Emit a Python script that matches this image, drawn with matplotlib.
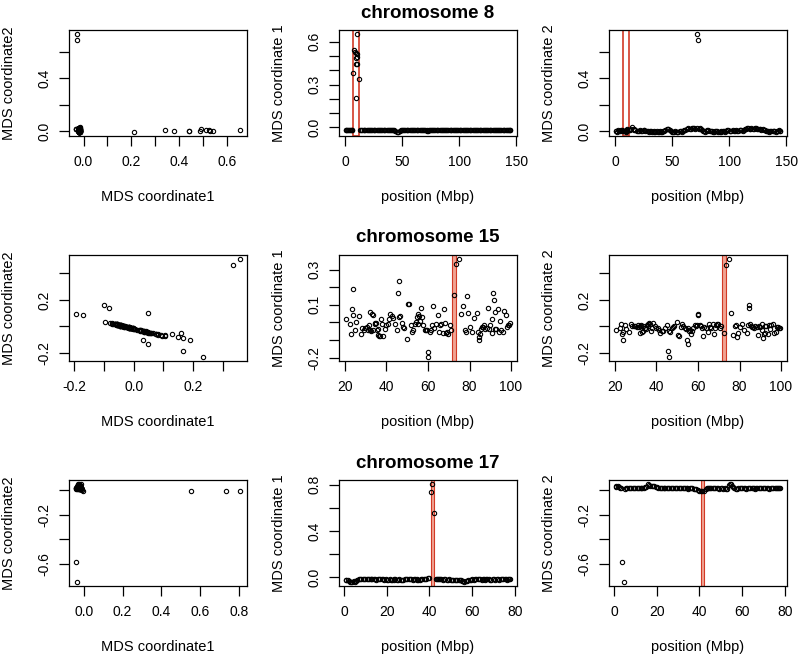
import matplotlib
matplotlib.use("Agg")
import matplotlib.pyplot as plt

plt.rcParams['font.family'] = ['Liberation Sans', 'DejaVu Sans']

# ---------------- chromosome 8 ----------------
pos8 = [0.5, 1.7, 2.9, 4.1, 5.3, 6.5, 13.4, 14.9, 16.3, 17.8,
        19.2, 20.7, 22.1, 23.6, 25.0, 26.5, 27.9, 29.4, 30.8, 32.3,
        33.7, 35.2, 36.6, 38.1, 39.5, 41.0, 42.4, 43.9, 45.3, 46.8,
        48.2, 49.7, 51.1, 52.6, 54.0, 55.5, 56.9, 58.4, 59.8, 61.3,
        62.7, 64.2, 65.6, 67.1, 68.5, 70.0, 71.4, 73.1, 74.3, 75.8,
        77.2, 78.7, 80.1, 81.6, 83.0, 84.5, 85.9, 87.4, 88.8, 90.3,
        91.7, 93.2, 94.6, 96.1, 97.5, 99.0, 100.4, 101.9, 103.3, 104.8,
        106.2, 107.7, 109.1, 110.6, 112.0, 113.5, 114.9, 116.4, 117.8, 119.3,
        120.7, 122.2, 123.6, 125.1, 126.5, 128.0, 129.4, 130.9, 132.3, 133.8,
        135.2, 136.7, 138.1, 139.6, 141.0, 142.5, 143.9, 144.8,
        1.1, 3.5, 5.9, 14.1, 17.0, 19.9, 22.8, 25.7, 28.6, 31.5,
        34.4, 37.3, 40.2, 43.1, 46.0, 48.9, 51.8, 54.7, 57.6, 60.5,
        63.4, 66.3, 69.2, 74.9, 77.9, 80.8, 83.7, 86.6, 89.5, 92.4,
        95.3, 98.2, 101.1, 104.0, 106.9, 109.8, 112.7, 115.6, 118.5, 121.4,
        124.3, 127.2, 130.1, 133.0, 135.9, 138.8, 141.7, 144.3,
        7.4, 8.2, 9.0, 9.4, 9.6, 9.8, 10.0, 10.2, 10.5, 10.6, 10.9, 12.5,
        72.2, 72.6]
mds1_8 = [-0.017, -0.019, -0.016, -0.018, -0.020, -0.017, -0.018, -0.016, -0.019, -0.017,
          -0.018, -0.020, -0.017, -0.019, -0.016, -0.018, -0.020, -0.017, -0.019, -0.018,
          -0.016, -0.019, -0.017, -0.018, -0.020, -0.017, -0.019, -0.022, -0.030, -0.033,
          -0.024, -0.019, -0.017, -0.020, -0.018, -0.016, -0.019, -0.017, -0.018, -0.020,
          -0.017, -0.019, -0.016, -0.018, -0.020, -0.017, -0.019, -0.018, -0.016, -0.019,
          -0.017, -0.020, -0.018, -0.016, -0.019, -0.017, -0.018, -0.020, -0.017, -0.019,
          -0.016, -0.018, -0.020, -0.017, -0.019, -0.018, -0.016, -0.019, -0.017, -0.020,
          -0.018, -0.016, -0.019, -0.017, -0.018, -0.020, -0.017, -0.019, -0.016, -0.018,
          -0.020, -0.017, -0.019, -0.018, -0.016, -0.019, -0.017, -0.020, -0.018, -0.016,
          -0.019, -0.017, -0.018, -0.020, -0.017, -0.019, -0.016, -0.015,
          -0.018, -0.017, -0.019, -0.017, -0.018, -0.019, -0.016, -0.018, -0.017, -0.019,
          -0.018, -0.016, -0.018, -0.020, -0.031, -0.021, -0.018, -0.017, -0.019, -0.018,
          -0.017, -0.019, -0.018, -0.017, -0.019, -0.018, -0.016, -0.018, -0.019, -0.017,
          -0.018, -0.019, -0.017, -0.018, -0.016, -0.019, -0.018, -0.017, -0.019, -0.018,
          -0.016, -0.018, -0.019, -0.017, -0.018, -0.016, -0.018, -0.017,
          0.377, 0.540, 0.529, 0.209, 0.440, 0.522, 0.487, 0.440, 0.510, 0.654, 0.490, 0.341,
          -0.028, -0.027]
mds2_8 = [0.002, -0.004, 0.005, 0.000, 0.006, 0.003, 0.008, 0.028, 0.015, 0.006,
          0.002, -0.003, 0.004, 0.000, 0.006, -0.002, 0.003, -0.004, 0.001, -0.005,
          0.000, -0.006, -0.002, -0.007, -0.003, -0.006, -0.002, 0.005, 0.016, 0.015,
          0.004, -0.004, -0.007, -0.003, -0.008, -0.004, 0.000, -0.005, 0.002, 0.008,
          0.016, 0.022, 0.012, 0.020, 0.025, 0.018, 0.024, 0.015, 0.020, 0.006,
          0.000, -0.004, 0.002, 0.010, 0.003, -0.002, -0.006, -0.001, 0.003, -0.004,
          -0.008, -0.003, 0.001, -0.005, 0.002, 0.008, 0.003, -0.002, 0.005, 0.000,
          0.006, -0.003, 0.004, 0.009, 0.003, 0.012, 0.018, 0.024, 0.016, 0.022,
          0.014, 0.020, 0.025, 0.012, 0.018, 0.008, 0.013, 0.004, -0.002, 0.003,
          -0.004, 0.001, -0.003, 0.002, -0.005, 0.000, 0.004, -0.002,
          0.001, -0.002, 0.004, 0.018, 0.010, 0.000, 0.002, 0.004, 0.000, -0.002,
          -0.004, -0.005, -0.004, 0.000, 0.015, -0.002, -0.005, -0.006, -0.002, 0.005,
          0.019, 0.016, 0.022, 0.012, -0.002, 0.006, 0.000, -0.004, 0.000, -0.006,
          -0.002, 0.005, 0.000, 0.003, 0.002, 0.006, 0.008, 0.021, 0.019, 0.017,
          0.019, 0.013, 0.008, 0.000, -0.002, 0.000, -0.002, 0.001,
          0.000, 0.000, 0.003, -0.008, 0.002, 0.005, 0.000, 0.000, 0.005, 0.005, 0.013, 0.005,
          0.736, 0.688]
region8 = (7.2, 12.5)

# ---------------- chromosome 15 ----------------
pos15 = [20.3, 22.4, 22.7, 23.5, 23.7, 24.0, 24.8, 25.5, 26.9, 27.6,
         28.4, 29.2, 29.7, 30.5, 30.9, 31.4, 31.9, 32.2, 32.6, 32.9,
         33.4, 33.7, 34.3, 34.6, 35.0, 35.5, 35.8, 36.1, 36.4, 37.1,
         37.4, 37.7, 38.5, 39.3, 40.0, 40.8, 41.4, 41.9, 42.7, 43.2,
         44.2, 45.0, 45.6, 46.1, 46.2, 46.7, 47.5, 48.0, 48.5, 49.8,
         50.4, 50.9, 51.7, 52.2, 52.7, 53.5, 54.1, 54.6, 55.1, 55.4,
         55.9, 56.2, 56.7, 57.0, 57.8, 58.5, 59.1, 59.6, 59.9, 60.2,
         60.9, 61.4, 61.9, 62.3, 62.8, 63.9, 64.6, 65.1, 65.7, 66.2,
         67.2, 67.5, 68.0, 68.5, 69.1, 69.7, 70.4, 71.2, 72.5, 73.4,
         75.1, 75.9, 76.7, 77.6, 78.1, 78.6, 79.4, 80.2, 81.2, 82.3,
         83.4, 83.9, 84.4, 84.7, 85.0, 85.7, 86.0, 86.5, 87.0, 87.6,
         88.3, 88.9, 89.6, 90.0, 90.7, 90.8, 91.5, 91.8, 92.1, 92.4,
         92.9, 93.6, 94.1, 94.9, 95.3, 96.0, 96.6, 97.6, 97.9, 98.6,
         99.2, 99.7]
mds1_15 = [0.021, -0.011, -0.064, 0.074, 0.045, 0.191, -0.042, 0.002, 0.036, -0.064,
           -0.030, -0.042, -0.032, -0.023, -0.045, -0.017, -0.040, 0.058, -0.047, 0.049,
           -0.045, 0.040, -0.008, -0.002, -0.002, -0.045, -0.070, -0.036, -0.074, -0.074,
           0.021, -0.008, -0.079, -0.036, -0.017, -0.009, 0.017, 0.049, 0.034, 0.025,
           -0.008, -0.042, 0.166, 0.234, 0.030, 0.036, -0.004, -0.023, -0.032, -0.096,
           0.106, 0.106, -0.017, -0.055, -0.045, -0.008, 0.002, 0.030, 0.049, -0.008,
           0.036, 0.011, 0.081, 0.030, -0.013, -0.045, -0.045, -0.042, -0.170, -0.196,
           -0.055, -0.040, -0.017, 0.096, -0.032, -0.008, 0.040, -0.055, -0.017, -0.008,
           -0.060, 0.074, -0.002, -0.057, -0.055, -0.064, -0.017, -0.040, 0.158, 0.334,
           0.360, 0.049, 0.091, -0.045, -0.055, 0.149, 0.055, -0.026, -0.055, 0.025,
           0.053, -0.055, -0.083, -0.100, -0.064, -0.036, -0.023, -0.026, -0.017, -0.036,
           -0.032, 0.081, -0.036, -0.017, 0.021, -0.062, 0.166, 0.130, 0.058, -0.036,
           -0.036, 0.074, -0.055, 0.006, -0.045, -0.055, 0.064, 0.040, -0.023, -0.017,
           -0.017, -0.002]
mds2_15 = [-0.027, -0.013, 0.020, -0.056, -0.044, -0.105, 0.008, -0.017, -0.039, 0.015,
           0.001, 0.004, 0.002, -0.007, 0.009, -0.006, 0.003, -0.051, 0.010, -0.042,
           0.005, -0.037, -0.015, -0.014, -0.018, 0.009, 0.019, 0.004, 0.025, 0.021,
           -0.031, -0.011, 0.028, 0.000, -0.010, -0.011, -0.025, -0.046, -0.034, -0.033,
           -0.011, 0.008, -0.188, -0.230, -0.032, -0.039, -0.013, -0.007, 0.002, 0.035,
           -0.064, -0.070, -0.006, 0.015, 0.005, -0.015, -0.017, -0.100, -0.1325, -0.011,
           -0.035, -0.026, -0.060, -0.036, -0.008, 0.009, 0.005, 0.008, 0.085, 0.092,
           0.011, 0.007, -0.010, -0.068, -0.002, -0.011, -0.042, 0.015, -0.006, -0.015,
           0.018, -0.056, -0.014, 0.012, 0.015, 0.016, -0.010, 0.007, -0.050, 0.465,
           0.5075, 0.100, -0.066, 0.005, 0.011, -0.0825, -0.046, -0.005, 0.015, -0.029,
           -0.049, 0.011, 0.1375, 0.1625, 0.020, 0.000, -0.003, -0.005, -0.010, 0.004,
           -0.002, -0.064, 0.000, -0.006, -0.027, 0.019, -0.085, -0.055, -0.047, 0.004,
           0.000, -0.060, 0.011, -0.019, 0.009, 0.015, -0.051, -0.041, -0.007, -0.006,
           -0.010, -0.014]
region15 = (71.8, 73.5)

# ---------------- chromosome 17 ----------------
pos17 = [0.6, 1.5, 2.4, 3.2, 5.1, 6.0, 6.9, 7.8, 8.7, 9.6,
         10.5, 11.4, 12.3, 13.2, 14.1, 15.0, 15.9, 16.8, 17.7, 18.6,
         19.5, 20.4, 21.3, 22.2, 23.1, 24.0, 24.9, 25.8, 26.7, 27.6,
         28.5, 29.4, 30.3, 31.2, 32.1, 33.0, 33.9, 34.8, 35.7, 36.6,
         37.5, 38.4, 39.3, 39.9, 42.9, 43.8, 44.7, 45.6, 46.5, 47.4,
         48.3, 49.2, 50.1, 51.0, 51.9, 52.8, 53.7, 54.6, 55.5, 56.4,
         57.3, 58.2, 59.1, 60.0, 60.9, 61.8, 62.7, 63.6, 64.5, 65.4,
         66.3, 67.2, 68.1, 69.0, 69.9, 70.8, 71.7, 72.6, 73.5, 74.4,
         75.3, 76.2, 77.1, 78.0,
         1.0, 2.8, 5.5, 7.3, 9.1, 10.9, 12.7, 14.5, 16.3, 18.1,
         19.9, 21.7, 23.5, 25.3, 27.1, 28.9, 30.7, 32.5, 34.3, 36.1,
         37.9, 43.3, 45.1, 46.9, 48.7, 50.5, 52.3, 54.1, 55.9, 57.7,
         59.5, 61.3, 63.1, 64.9, 66.7, 68.5, 70.3, 72.1, 73.9, 75.7,
         77.5,
         3.6, 4.4, 40.6, 41.1, 42.2]
mds1_17 = [-0.020, -0.022, -0.034, -0.042, -0.040, -0.025, -0.014, -0.012, -0.015, -0.013,
           -0.016, -0.014, -0.018, -0.015, -0.017, -0.020, -0.016, -0.019, -0.017, -0.021,
           -0.018, -0.022, -0.019, -0.023, -0.020, -0.018, -0.021, -0.019, -0.024, -0.020,
           -0.017, -0.019, -0.016, -0.018, -0.021, -0.017, -0.019, -0.022, -0.020, -0.018,
           -0.016, -0.013, -0.010, -0.003, -0.016, -0.019, -0.015, -0.018, -0.020, -0.017,
           -0.021, -0.019, -0.022, -0.020, -0.024, -0.021, -0.026, -0.028, -0.033, -0.038,
           -0.035, -0.027, -0.022, -0.019, -0.021, -0.017, -0.019, -0.016, -0.020, -0.018,
           -0.021, -0.017, -0.019, -0.022, -0.018, -0.020, -0.017, -0.021, -0.019, -0.016,
           -0.018, -0.020, -0.017, -0.019,
           -0.021, -0.038, -0.032, -0.013, -0.014, -0.015, -0.016, -0.018, -0.018, -0.019,
           -0.020, -0.021, -0.019, -0.020, -0.022, -0.018, -0.017, -0.019, -0.020, -0.019,
           -0.015, -0.017, -0.016, -0.019, -0.020, -0.021, -0.022, -0.027, -0.036, -0.031,
           -0.020, -0.019, -0.018, -0.019, -0.019, -0.020, -0.019, -0.019, -0.018, -0.019,
           -0.018,
           -0.038, -0.034, 0.734, 0.807, 0.552]
mds2_17 = [0.027, 0.030, 0.022, 0.014, 0.010, 0.015, 0.018, 0.012, 0.016, 0.014,
           0.017, 0.013, 0.016, 0.012, 0.018, 0.022, 0.049, 0.036, 0.034, 0.030,
           0.024, 0.019, 0.016, 0.018, 0.015, 0.017, 0.014, 0.016, 0.013, 0.017,
           0.015, 0.012, 0.016, 0.014, 0.017, 0.013, 0.015, 0.011, 0.014, 0.012,
           0.010, 0.006, 0.002, -0.006, 0.010, 0.014, 0.017, 0.013, 0.016, 0.012,
           0.015, 0.011, 0.014, 0.009, 0.016, 0.004, 0.044, 0.049, 0.030, 0.012,
           0.008, 0.014, 0.017, 0.012, 0.015, 0.011, 0.016, 0.013, 0.017, 0.014,
           0.011, 0.015, 0.013, 0.016, 0.012, 0.017, 0.014, 0.011, 0.015, 0.013,
           0.016, 0.012, 0.015, 0.014,
           0.029, 0.018, 0.012, 0.015, 0.015, 0.015, 0.014, 0.020, 0.042, 0.032,
           0.027, 0.017, 0.016, 0.015, 0.015, 0.014, 0.015, 0.015, 0.013, 0.013,
           0.008, 0.012, 0.015, 0.014, 0.013, 0.012, 0.008, 0.047, 0.020, 0.011,
           0.015, 0.013, 0.015, 0.015, 0.013, 0.014, 0.015, 0.012, 0.014, 0.014,
           0.015,
           -0.586, -0.749, -0.008, -0.008, -0.005]
region17 = (40.5, 42.3)

# ---------------- ticks / labels ----------------
titles = ["chromosome 8", "chromosome 15", "chromosome 17"]

ticks_c1_8 = [0.0, 0.1, 0.2, 0.3, 0.4, 0.5, 0.6]
labs_c1_8 = ["0.0", "", "0.2", "", "0.4", "", "0.6"]
ticks_c2_8 = [0.0, 0.2, 0.4, 0.6]
labs_c2_8 = ["0.0", "", "0.4", ""]
ticks_m1_8 = [0.0, 0.1, 0.2, 0.3, 0.4, 0.5, 0.6]
labs_m1_8 = ["0.0", "", "", "0.3", "", "", "0.6"]
ticks_pos8 = [0, 50, 100, 150]

ticks_c1_15 = [-0.2, -0.1, 0.0, 0.1, 0.2, 0.3]
labs_c1_15 = ["-0.2", "", "0.0", "", "0.2", ""]
ticks_c2_15 = [-0.2, 0.0, 0.2, 0.4]
labs_c2_15 = ["-0.2", "", "0.2", ""]
ticks_m1_15 = [-0.2, -0.1, 0.0, 0.1, 0.2, 0.3]
labs_m1_15 = ["-0.2", "", "", "0.1", "", "0.3"]
ticks_pos15 = [20, 40, 60, 80, 100]

ticks_c1_17 = [0.0, 0.2, 0.4, 0.6, 0.8]
labs_c1_17 = ["0.0", "0.2", "0.4", "0.6", "0.8"]
ticks_c2_17 = [-0.6, -0.4, -0.2, 0.0]
labs_c2_17 = ["-0.6", "", "-0.2", ""]
ticks_m1_17 = [0.0, 0.2, 0.4, 0.6, 0.8]
labs_m1_17 = ["0.0", "", "0.4", "", "0.8"]
ticks_pos17 = [0, 20, 40, 60, 80]

RED = "#D23A26"
SALMON = "#F0A493"

fig = plt.figure(figsize=(7.99, 6.58), dpi=100)
lefts = [69, 339, 609]
tops = [30, 255, 480]
W, H = 178, 106


def panel(col, row, x, y, xt, xl, yt, yl, xlab, ylab, region=None, filled=False):
    ax = fig.add_axes([lefts[col] / 799, 1 - (tops[row] + H) / 658, W / 799, H / 658])
    if region is not None:
        ax.axvspan(region[0], region[1], facecolor=SALMON if filled else "none",
                   edgecolor=RED, linewidth=0.8 if filled else 1.2, zorder=1)
    ax.plot(x, y, "o", mfc="none", mec="black", ms=3.1, mew=0.8, zorder=3)
    ax.margins(0.04)
    ax.set_xticks(xt)
    ax.set_xticklabels(xl, fontsize=10)
    ax.set_yticks(yt)
    ax.set_yticklabels(yl, fontsize=10, rotation=90, va="center")
    ax.tick_params(direction="out", length=7, width=0.9)
    ax.tick_params(axis="x", pad=6.5)
    ax.tick_params(axis="y", pad=5.5)
    for s in ax.spines.values():
        s.set_linewidth(0.9)
    ax.set_xlabel(xlab, fontsize=10.5)
    ax.set_ylabel(ylab, fontsize=10.5)
    ax.xaxis.set_label_coords(0.5, -0.51)
    ax.yaxis.set_label_coords(-0.295, 0.5)
    return ax


# chromosome 8
panel(0, 0, mds1_8, mds2_8, ticks_c1_8, labs_c1_8, ticks_c2_8, labs_c2_8,
      "MDS coordinate1", "MDS coordinate2")
ax = panel(1, 0, pos8, mds1_8, ticks_pos8, [str(t) for t in ticks_pos8], ticks_m1_8, labs_m1_8,
           "position (Mbp)", "MDS coordinate 1", region8)
ax.set_title(titles[0], fontsize=13.5, fontweight="bold", pad=9)
panel(2, 0, pos8, mds2_8, ticks_pos8, [str(t) for t in ticks_pos8], ticks_c2_8, labs_c2_8,
      "position (Mbp)", "MDS coordinate 2", region8)

# chromosome 15
panel(0, 1, mds1_15, mds2_15, ticks_c1_15, labs_c1_15, ticks_c2_15, labs_c2_15,
      "MDS coordinate1", "MDS coordinate2")
ax = panel(1, 1, pos15, mds1_15, ticks_pos15, [str(t) for t in ticks_pos15], ticks_m1_15, labs_m1_15,
           "position (Mbp)", "MDS coordinate 1", region15, filled=True)
ax.set_title(titles[1], fontsize=13.5, fontweight="bold", pad=9)
panel(2, 1, pos15, mds2_15, ticks_pos15, [str(t) for t in ticks_pos15], ticks_c2_15, labs_c2_15,
      "position (Mbp)", "MDS coordinate 2", region15, filled=True)

# chromosome 17
panel(0, 2, mds1_17, mds2_17, ticks_c1_17, labs_c1_17, ticks_c2_17, labs_c2_17,
      "MDS coordinate1", "MDS coordinate2")
ax = panel(1, 2, pos17, mds1_17, ticks_pos17, [str(t) for t in ticks_pos17], ticks_m1_17, labs_m1_17,
           "position (Mbp)", "MDS coordinate 1", region17, filled=True)
ax.set_title(titles[2], fontsize=13.5, fontweight="bold", pad=9)
panel(2, 2, pos17, mds2_17, ticks_pos17, [str(t) for t in ticks_pos17], ticks_c2_17, labs_c2_17,
      "position (Mbp)", "MDS coordinate 2", region17, filled=True)

fig.savefig("out.png", dpi=100)
